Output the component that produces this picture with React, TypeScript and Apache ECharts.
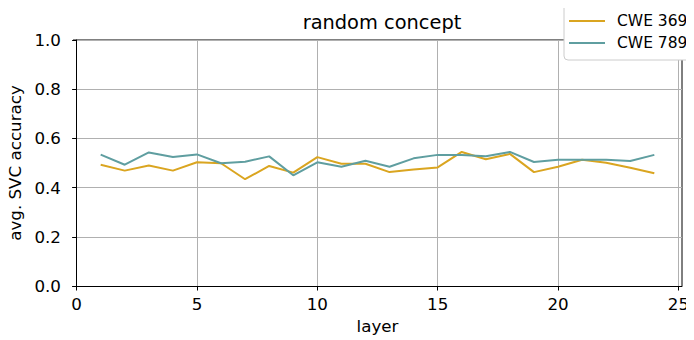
import React, { useEffect, useRef } from "react";
import * as echarts from "echarts";

const layers = [1, 2, 3, 4, 5, 6, 7, 8, 9, 10, 11, 12, 13, 14, 15, 16, 17, 18, 19, 20, 21, 22, 23, 24];
const cwe369 = [0.493, 0.469, 0.490, 0.469, 0.503, 0.499, 0.434, 0.488, 0.461, 0.524, 0.497, 0.497, 0.463, 0.474, 0.482, 0.545, 0.515, 0.537, 0.463, 0.485, 0.513, 0.501, 0.481, 0.458];
const cwe789 = [0.534, 0.493, 0.543, 0.524, 0.535, 0.499, 0.505, 0.527, 0.450, 0.503, 0.485, 0.509, 0.485, 0.519, 0.533, 0.533, 0.527, 0.545, 0.504, 0.513, 0.513, 0.513, 0.508, 0.533];
const xTicks = [0, 5, 10, 15, 20, 25];
const seriesNames = ["CWE 369", "CWE 789"];
const colors = ["#DAA520", "#5F9EA0"];

const FONT = "DejaVu Sans";
const TICK = 16.7;

export default function App() {
  const ref = useRef<HTMLDivElement>(null);
  useEffect(() => {
    if (!ref.current) return;
    const chart = echarts.init(ref.current, null, { renderer: "svg" });
    const mk = (vals: number[]) => layers.map((l, i) => [l, vals[i]]);
    chart.setOption({
      animation: false,
      backgroundColor: "#ffffff",
      textStyle: { fontFamily: FONT },
      title: {
        text: "random concept",
        left: 377,
        textAlign: "center",
        top: 8,
        textStyle: { fontFamily: FONT, fontSize: 19.4, fontWeight: "normal", color: "#000" },
      },
      legend: {
        orient: "vertical",
        left: 564,
        top: 4,
        padding: [9, 12, 9, 5],
        itemGap: 6,
        itemWidth: 36,
        itemHeight: 2,
        icon: "rect",
        backgroundColor: "#ffffff",
        borderColor: "#cccccc",
        borderWidth: 1,
        borderRadius: 4,
        textStyle: { fontFamily: FONT, fontSize: 15.5, color: "#000", padding: [0, 0, 0, 7] },
        data: seriesNames,
      },
      grid: { left: 73, right: 12, top: 40, bottom: 54, show: false, containLabel: false, outerBoundsMode: "none" },
      xAxis: {
        type: "value",
        min: -0.15,
        max: 25.15,
        name: "layer",
        nameLocation: "middle",
        nameGap: 31,
        nameTextStyle: { fontFamily: FONT, fontSize: TICK, color: "#000" },
        axisLine: { show: true, onZero: false, lineStyle: { color: "#000", width: 1 } },
        axisTick: { show: true, length: 4.5, customValues: xTicks, lineStyle: { color: "#000" } },
        axisLabel: { customValues: xTicks, fontFamily: FONT, fontSize: TICK, color: "#000", margin: 9 },
        splitLine: { show: true, lineStyle: { color: "#b0b0b0", width: 1 } },
      },
      yAxis: {
        type: "value",
        min: 0,
        max: 1,
        interval: 0.2,
        name: "avg. SVC accuracy",
        nameLocation: "middle",
        nameGap: 45,
        nameTextStyle: { fontFamily: FONT, fontSize: TICK, color: "#000" },
        axisLine: { show: true, lineStyle: { color: "#000", width: 1 } },
        axisTick: { show: true, length: 4.5, lineStyle: { color: "#000" } },
        axisLabel: { fontFamily: FONT, fontSize: TICK, color: "#000", margin: 12, formatter: (v: number) => v.toFixed(1) },
        splitLine: { show: true, lineStyle: { color: "#b0b0b0", width: 1 } },
      },
      series: [
        {
          name: seriesNames[0],
          type: "line",
          data: mk(cwe369),
          symbol: "none",
          color: colors[0],
          lineStyle: { width: 2, color: colors[0] },
        },
        {
          name: seriesNames[1],
          type: "line",
          data: mk(cwe789),
          symbol: "none",
          color: colors[1],
          lineStyle: { width: 2, color: colors[1] },
        },
      ],
      graphic: [
        { type: "line", shape: { x1: 73, y1: 40, x2: 682, y2: 40 }, style: { stroke: "#000", lineWidth: 1 } },
        { type: "line", shape: { x1: 682, y1: 40, x2: 682, y2: 286 }, style: { stroke: "#000", lineWidth: 1 } },
      ],
    });
    return () => chart.dispose();
  }, []);
  return <div ref={ref} style={{ width: 694, height: 340, marginLeft: -8, marginTop: -8 }} />;
}
